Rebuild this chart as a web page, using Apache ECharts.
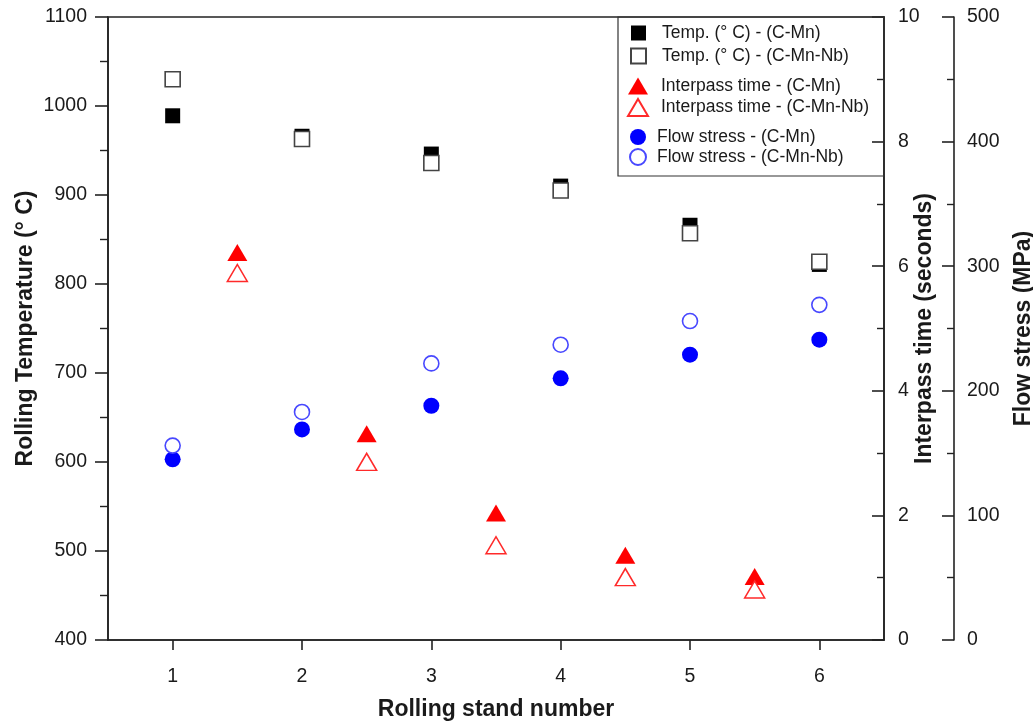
<!DOCTYPE html>
<html>
<head>
<meta charset="utf-8">
<script src="https://cdn.jsdelivr.net/npm/echarts@6/dist/echarts.min.js"></script>
<style>
html,body{margin:0;padding:0;background:#fff;}
#c{width:1033px;height:722px;}
</style>
</head>
<body>
<div id="c"></div>
<script>
// ---- data ----
const stands = [1, 2, 3, 4, 5, 6];
const interStands = [1.5, 2.5, 3.5, 4.5, 5.5];
const tempCMn = [989, 966, 946, 910, 866, 822];
const tempCMnNb = [1030, 963, 936, 905, 857, 825];
const timeCMn = [6.22, 3.31, 2.04, 1.36, 1.02];
const timeCMnNb = [5.89, 2.86, 1.52, 1.01, 0.81];
const flowCMn = [145, 169, 188, 210, 229, 241];
const flowCMnNb = [156, 183, 222, 237, 256, 269];
const xTicks = [1, 2, 3, 4, 5, 6];
const names = {
  tA: 'Temp. (° C) - (C-Mn)',
  tB: 'Temp. (° C) - (C-Mn-Nb)',
  iA: 'Interpass time - (C-Mn)',
  iB: 'Interpass time - (C-Mn-Nb)',
  fA: 'Flow stress - (C-Mn)',
  fB: 'Flow stress - (C-Mn-Nb)'
};

const FONT = 'Liberation Sans, Arial, sans-serif';
const TXT = '#1a1a1a';
const pair = (xs, ys) => xs.map((x, i) => [x, ys[i]]);
const plain = v => String(v);

const chart = echarts.init(document.getElementById('c'), null, {renderer: 'canvas'});
const axisLine = {show: true, lineStyle: {color: '#222', width: 1.6}};
const lbl = {color: TXT, fontFamily: FONT, fontSize: 19.5, formatter: plain};
const nameStyle = {color: TXT, fontFamily: FONT, fontSize: 23, fontWeight: 'bold'};
const legTxt = pad => ({color: TXT, fontFamily: FONT, fontSize: 17.5, padding: [0, 0, 0, pad]});

chart.setOption({
  animation: false,
  backgroundColor: '#fff',
  textStyle: {fontFamily: FONT},
  grid: {left: 108, right: 149, top: 17, bottom: 82, show: true, borderColor: '#222', borderWidth: 1.6,
         backgroundColor: 'transparent', containLabel: false, outerBoundsMode: 'none'},
  xAxis: {
    type: 'value', min: 0.5, max: 6.5,
    name: 'Rolling stand number', nameLocation: 'middle', nameGap: 58, nameMoveOverlap: false, nameTextStyle: nameStyle,
    axisLine: axisLine,
    axisTick: {show: true, customValues: xTicks, length: 10, lineStyle: {color: '#222', width: 1.6}},
    axisLabel: Object.assign({}, lbl, {customValues: xTicks, margin: 27}),
    splitLine: {show: false}
  },
  yAxis: [
    {
      type: 'value', position: 'left', min: 400, max: 1100, interval: 100,
      name: 'Rolling Temperature (° C)', nameLocation: 'middle', nameRotate: 90, nameGap: 71, nameMoveOverlap: false, nameTextStyle: nameStyle,
      axisLine: axisLine,
      axisTick: {show: true, length: 13, lineStyle: {color: '#222', width: 1.6}},
      minorTick: {show: true, splitNumber: 2, length: 8, lineStyle: {color: '#222', width: 1.4}},
      axisLabel: Object.assign({}, lbl, {margin: 21}),
      splitLine: {show: false}
    },
    {
      type: 'value', position: 'right', min: 0, max: 10, interval: 2,
      name: 'Interpass time (seconds)', nameLocation: 'middle', nameRotate: 90, nameGap: 29, nameMoveOverlap: false, nameTextStyle: nameStyle,
      axisLine: axisLine,
      axisTick: {show: true, inside: true, length: 12, lineStyle: {color: '#222', width: 1.6}},
      minorTick: {show: true, splitNumber: 2, length: 7, lineStyle: {color: '#222', width: 1.4}},
      axisLabel: Object.assign({}, lbl, {margin: 14}),
      splitLine: {show: false}
    },
    {
      type: 'value', position: 'right', offset: 70, min: 0, max: 500, interval: 100,
      name: 'Flow stress (MPa)', nameLocation: 'middle', nameRotate: 90, nameGap: 58, nameMoveOverlap: false, nameTextStyle: nameStyle,
      axisLine: axisLine,
      axisTick: {show: true, inside: true, length: 12, lineStyle: {color: '#222', width: 1.6}},
      minorTick: {show: true, splitNumber: 2, length: 7, lineStyle: {color: '#222', width: 1.4}},
      axisLabel: Object.assign({}, lbl, {margin: 13}),
      splitLine: {show: false}
    }
  ],
  legend: [
    {
      data: [names.tA, names.tB], orient: 'vertical', left: 630, top: 24, padding: 0,
      itemWidth: 15, itemHeight: 15, itemGap: 5, textStyle: legTxt(11)
    },
    {
      data: [names.iA, names.iB], orient: 'vertical', left: 627, top: 77, padding: 0,
      itemWidth: 20, itemHeight: 17, itemGap: 3, textStyle: legTxt(8)
    },
    {
      data: [names.fA, names.fB], orient: 'vertical', left: 629, top: 128, padding: 0,
      itemWidth: 16, itemHeight: 16, itemGap: 2, textStyle: legTxt(6)
    }
  ],
  graphic: [{
    type: 'rect', shape: {x: 618, y: 17, width: 266, height: 159},
    style: {fill: 'transparent', stroke: '#333', lineWidth: 1.2}, z: 100, silent: true
  }],
  series: [
    {name: names.tA, type: 'scatter', yAxisIndex: 0, symbol: 'rect', symbolSize: 15,
     itemStyle: {color: '#000', opacity: 1}, data: pair(stands, tempCMn)},
    {name: names.tB, type: 'scatter', yAxisIndex: 0, symbol: 'rect', symbolSize: 15,
     itemStyle: {color: '#fff', borderColor: '#444', borderWidth: 1.6, opacity: 1}, data: pair(stands, tempCMnNb)},
    {name: names.iA, type: 'scatter', yAxisIndex: 1, symbol: 'triangle', symbolSize: [20, 17],
     itemStyle: {color: '#ff0000', opacity: 1}, data: pair(interStands, timeCMn)},
    {name: names.iB, type: 'scatter', yAxisIndex: 1, symbol: 'triangle', symbolSize: [20, 17],
     itemStyle: {color: '#fff', borderColor: '#ff2a2a', borderWidth: 1.5, opacity: 1}, data: pair(interStands, timeCMnNb)},
    {name: names.fA, type: 'scatter', yAxisIndex: 2, symbol: 'circle', symbolSize: 16,
     itemStyle: {color: '#0000ff', opacity: 1}, data: pair(stands, flowCMn)},
    {name: names.fB, type: 'scatter', yAxisIndex: 2, symbol: 'circle', symbolSize: 15,
     itemStyle: {color: '#fff', borderColor: '#4848ff', borderWidth: 1.6, opacity: 1}, data: pair(stands, flowCMnNb)}
  ]
});
</script>
</body>
</html>
